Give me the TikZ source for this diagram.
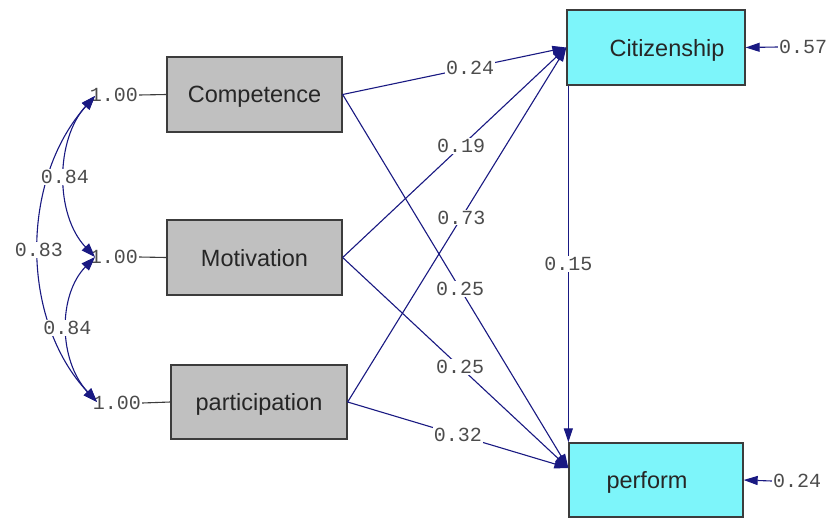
\documentclass[tikz,border=0pt]{standalone}
\usepackage{fontspec}
\setmainfont{Liberation Sans}
\newfontfamily\lblfont{Liberation Mono}
\usetikzlibrary{arrows.meta}
\definecolor{navy}{RGB}{25,25,130}
\definecolor{boxgray}{RGB}{192,192,192}
\definecolor{boxcyan}{RGB}{125,245,250}
\definecolor{edgegray}{RGB}{60,60,60}
\begin{document}
\begin{tikzpicture}[x=1pt,y=-1pt,
  var/.style={draw=edgegray, line width=1.3pt, minimum width=175pt, minimum height=75pt, inner sep=0pt, text depth=0pt, font=\fontsize{23.5}{26}\selectfont, text=black!85},
  obs/.style={var, fill=boxgray},
  endo/.style={var, fill=boxcyan},
  lbl/.style={font=\lblfont\fontsize{20}{20}\selectfont, text=black!70, fill=white, inner sep=1pt},
  nolbl/.style={lbl, fill=none},
  causal/.style={draw=navy, line width=1.1pt, -{Triangle[length=14pt,width=9pt]}},
  covar/.style={draw=navy, line width=1.1pt, {Triangle[length=14pt,width=10pt]}-{Triangle[length=14pt,width=10pt]}},
  varline/.style={draw=edgegray, line width=1.1pt},
]
\useasboundingbox[fill=white] (0,0) rectangle (831,520);

% boxes
\node[obs] (comp) at (254.5,94.5) {Competence};
\node[obs] (moti) at (254.5,257.5) {Motivation};
\node[obs, minimum width=176pt, minimum height=74pt] (part) at (259,402) {participation};
\node[endo, minimum width=178pt] (cit) at (656,47.5) {\hspace*{22pt}Citizenship};
\node[endo, minimum width=174pt, minimum height=74pt] (perf) at (656,480) {perform\hspace*{18pt}};

% variance labels
\node[nolbl] (v1) at (114,95) {1.00};
\node[nolbl] (v2) at (114,257) {1.00};
\node[nolbl] (v3) at (117,403) {1.00};
\draw[varline] (v1.east) -- (comp.west);
\draw[varline] (v2.east) -- (moti.west);
\draw[varline] (v3.east) -- (part.west);

\coordinate (a1) at (95,96);
\coordinate (a2) at (95,257);
\coordinate (a3) at (97,402);

% covariances
\draw[covar] (a1) .. controls (20,180) and (20,320) .. (a3) node[lbl, pos=0.5] {0.83};
\draw[covar] (a1) .. controls (55,140) and (55,215) .. (a2) node[lbl, pos=0.5] {0.84};
\draw[covar] (a2) .. controls (58,295) and (58,360) .. (a3) node[lbl, pos=0.5] {0.84};

% paths to Citizenship
\draw[causal] (comp.east) -- (cit.west) node[lbl, pos=0.57] {0.24};
\draw[causal] (moti.east) -- (cit.west) node[lbl, pos=0.53] {0.19};
\draw[causal] (part.east) -- (cit.west) node[lbl, pos=0.52] {0.73};

% paths to perform
\coordinate (pin) at ([yshift=12pt]perf.west);
\draw[causal] (comp.east) -- (pin) node[lbl, pos=0.52] {0.25};
\draw[causal] (moti.east) -- (pin) node[lbl, pos=0.52] {0.25};
\draw[causal] (part.east) -- (pin) node[lbl, pos=0.5] {0.32};

% Citizenship -> perform
\draw[causal] ([xshift=2pt]cit.south west) -- ([xshift=2pt]cit.south west |- perf.north) node[lbl, pos=0.5] {0.15};

% errors
\node[nolbl] (e1) at (803,47) {0.57};
\node[nolbl] (e2) at (797,481) {0.24};
\draw[causal] (e1.west) -- (cit.east);
\draw[causal] (e2.west) -- (perf.east);
\end{tikzpicture}
\end{document}
